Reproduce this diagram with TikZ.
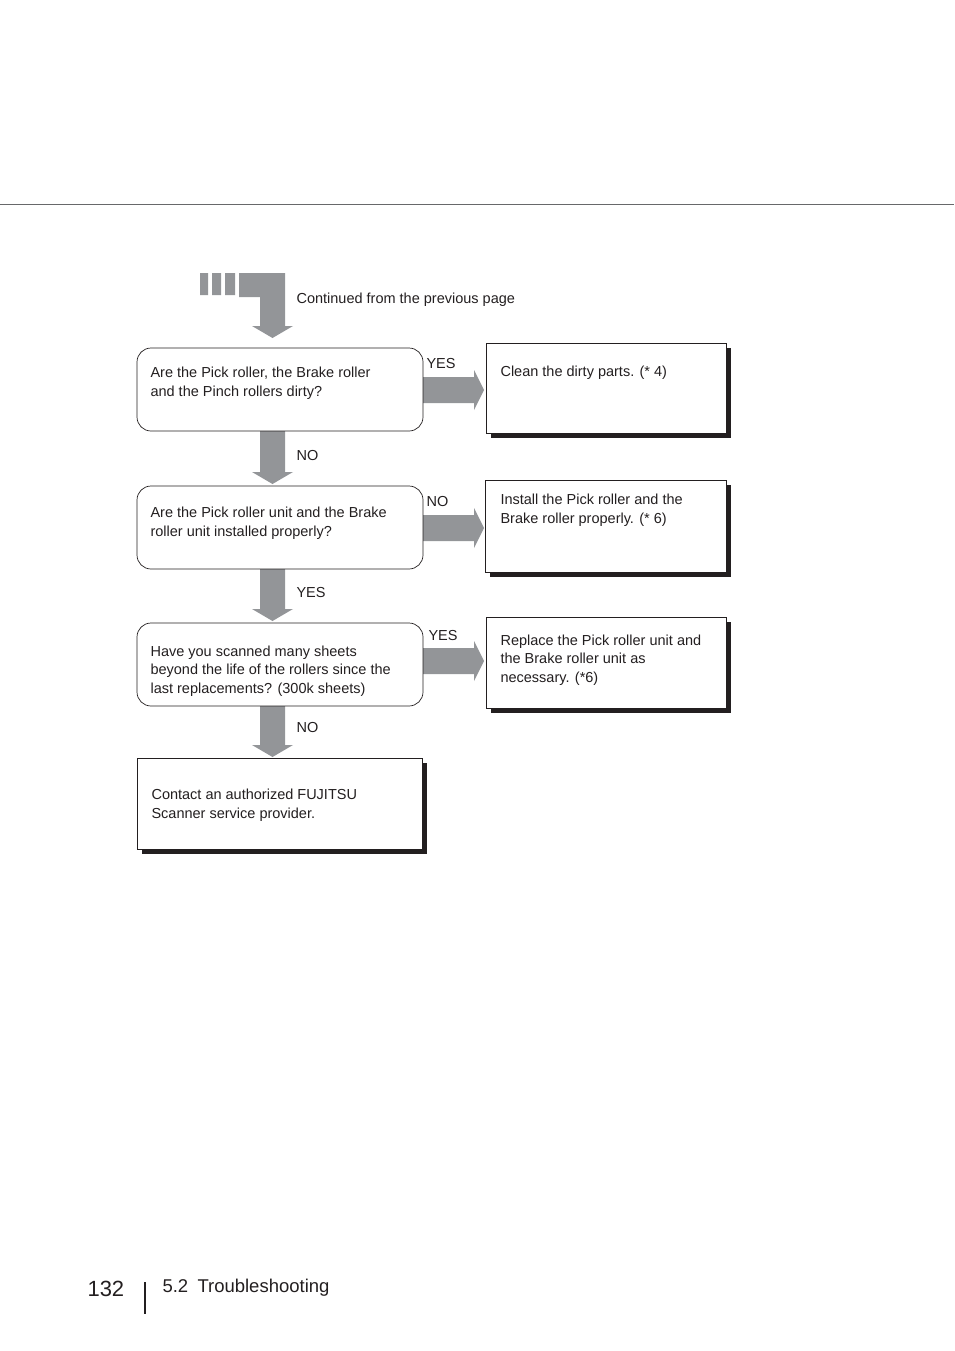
\documentclass[tikz,border=0pt]{standalone}
\usepackage{fontspec}
\setmainfont{Liberation Sans}
\definecolor{ag}{HTML}{939598}
\definecolor{tx}{HTML}{231F20}
\begin{document}
\begin{tikzpicture}[x=1pt,y=-1pt,
  lbl/.style={font=\fontsize{14.5}{18.5}\selectfont,text=tx,anchor=west,align=left},
  qbox/.style={draw=tx,line width=0.7pt,rounded corners=14pt},
  rbox/.style={draw=tx,line width=0.7pt,fill=white},
  shad/.style={fill=tx}]
\useasboundingbox (0,0) rectangle (954,1351);
\draw[ag!70!black,line width=0.6pt] (0,204) -- (954,204);
% top connector
\fill[ag] (200,273) rectangle (208,295) (212,273) rectangle (221,295) (225,273) rectangle (235,295);
\fill[ag] (239,273) -- (285,273) -- (285,326) -- (293,326) -- (272.5,338) -- (252,326) -- (260,326) -- (260,297) -- (239,297) -- cycle;
\node[lbl] (cont) at (293,300) {Continued from the previous page};
% down arrows
\foreach \a/\b in {431/484,569/621,706/757}{
 \fill[ag] (260,\a) -- (285,\a) -- (285,\b-12) -- (293,\b-12) -- (272.5,\b) -- (252,\b-12) -- (260,\b-12) -- cycle;}
% right arrows
\foreach \c in {390,528,661}{
 \fill[ag] (423,\c-13) -- (474,\c-13) -- (474,\c-20) -- (484,\c) -- (474,\c+20) -- (474,\c+13) -- (423,\c+13) -- cycle;}
% question boxes
\draw[qbox] (137,348) rectangle (423,431);
\draw[qbox] (137,486) rectangle (423,569);
\draw[qbox] (137,623) rectangle (423,706);
\node[lbl] (q1) at (147,383) {Are the Pick roller, the Brake roller\\and the Pinch rollers dirty?};
\node[lbl] (q2) at (147,523) {Are the Pick roller unit and the Brake\\roller unit installed properly?};
\node[lbl] (q3) at (147,671) {Have you scanned many sheets\\beyond the life of the rollers since the\\last replacements? (300k sheets)};
% result boxes
\foreach \l/\t/\r/\b in {486/343/726/433,485/480/726/572,486/617/726/708,137/758/422/849}{
 \fill[shad] (\l+5,\t+5) rectangle (\r+5,\b+5);
 \draw[rbox] (\l,\t) rectangle (\r,\b);}
\node[lbl] (r1) at (497,373) {Clean the dirty parts. (* 4)};
\node[lbl] (r2) at (497,510) {Install the Pick roller and the\\Brake roller properly. (* 6)};
\node[lbl] (r3) at (497,660) {Replace the Pick roller unit and\\the Brake roller unit as\\necessary. (*6)};
\node[lbl] (r4) at (148,805) {Contact an authorized FUJITSU\\Scanner service provider.};
% labels
\node[lbl] at (423,364) {YES};
\node[lbl] at (293,456) {NO};
\node[lbl] at (423,502) {NO};
\node[lbl] at (293,593) {YES};
\node[lbl] at (425,636) {YES};
\node[lbl] at (293,728) {NO};
% footer
\node[font=\fontsize{22}{24}\selectfont,text=tx,anchor=west] (pg) at (84,1289) {132};
\draw[tx,line width=1.2pt] (145,1282) -- (145,1314);
\node[font=\fontsize{18.5}{22}\selectfont,text=tx,anchor=west] (ft) at (159,1288) {5.2\hspace{0.5em}Troubleshooting};
\end{tikzpicture}
\end{document}
